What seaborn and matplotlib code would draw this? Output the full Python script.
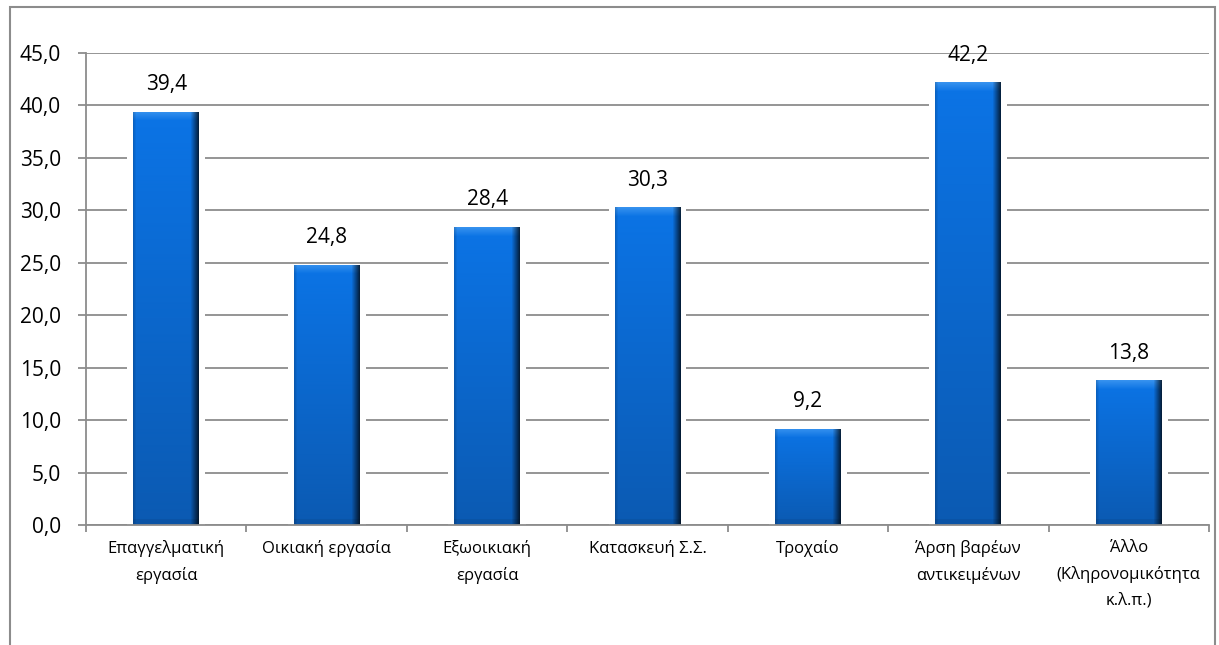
import numpy as np
import pandas as pd
import matplotlib
matplotlib.use("Agg")
import matplotlib.pyplot as plt
from matplotlib.patches import Rectangle
from matplotlib.ticker import FuncFormatter, FixedLocator
import seaborn as sns

categories = ["Επαγγελματική\nεργασία", "Οικιακή εργασία", "Εξωοικιακή\nεργασία",
              "Κατασκευή Σ.Σ.", "Τροχαίο", "Άρση βαρέων\nαντικειμένων",
              "Άλλο\n(Κληρονομικότητα\nκ.λ.π.)"]
values = [39.4, 24.8, 28.4, 30.3, 9.2, 42.2, 13.8]
y_ticks = [0, 5, 10, 15, 20, 25, 30, 35, 40, 45]

sns.set_theme(style="white")
plt.rcParams['font.family'] = ['Open Sans', 'DejaVu Sans']

GRID = "#8c8c8c"

fig = plt.figure(figsize=(12.19, 6.45), dpi=100)
ax = fig.add_axes([86 / 1219, 1 - 525 / 645, (1209 - 86) / 1219, (525 - 53) / 645])

df = pd.DataFrame({"cat": categories, "val": values})
sns.barplot(data=df, x="cat", y="val", order=categories, color="#0a6cd8",
            width=0.41, linewidth=0, saturation=1, ax=ax, zorder=2)

ax.set_ylim(0, 45)
ax.set_xlim(-0.5, len(categories) - 0.5)
ax.set_xlabel("")
ax.set_ylabel("")
ax.set_yticks(y_ticks)
ax.yaxis.set_major_formatter(FuncFormatter(lambda v, p: f"{v:.1f}".replace(".", ",")))
ax.set_axisbelow(True)
ax.yaxis.grid(True, color=GRID, linewidth=1.3)
ax.xaxis.grid(False)
for s in ["top", "right"]:
    ax.spines[s].set_visible(False)
for s in ["left", "bottom"]:
    ax.spines[s].set_color(GRID)
    ax.spines[s].set_linewidth(1.3)
    ax.spines[s].set_zorder(5)

ax.tick_params(axis="y", which="major", direction="out", length=6, width=1.3,
               color=GRID, pad=12, labelsize=15, labelcolor="black", left=True)
ax.tick_params(axis="x", which="major", length=0, pad=11, labelsize=12, labelcolor="black")
ax.xaxis.set_minor_locator(FixedLocator(np.arange(-0.5, len(categories), 1.0)))
ax.tick_params(axis="x", which="minor", direction="out", length=5, width=1.3,
               color=GRID, bottom=True)
for lab in ax.get_xticklabels():
    lab.set_multialignment("center")
    lab.set_linespacing(1.75)

# bar shading (gradient clipped to each bar) and soft side halo
def hex2rgb(h):
    h = h.lstrip("#")
    return np.array([int(h[i:i + 2], 16) for i in (0, 2, 4)]) / 255.0

top_c = hex2rgb("#0b74e6")
bot_c = hex2rgb("#0b5ab2")
light = hex2rgb("#5aaaf6")
halo_dx = 6 / 160.0
for bar in list(ax.patches):
    x0, y0 = bar.get_x(), bar.get_y()
    w, h = bar.get_width(), bar.get_height()
    ax.add_patch(Rectangle((x0 - halo_dx, y0), w + 2 * halo_dx, h, facecolor="white",
                           edgecolor="none", zorder=1.9))
    d = ax.transData.transform([[x0, y0], [x0 + w, y0 + h]])
    W = max(int(round(abs(d[1, 0] - d[0, 0]))), 2)
    H = max(int(round(abs(d[1, 1] - d[0, 1]))), 2)
    t = np.linspace(0, 1, H)[:, None, None]
    img = top_c * (1 - t) + bot_c * t
    img = np.repeat(img, W, axis=1)
    nb = min(9, H // 2)
    for r in range(nb):
        f = (1 - r / nb) * 0.55
        img[r] = img[r] * (1 - f) + light * f
    for r in range(min(6, H // 3)):
        img[H - 1 - r] *= 0.93
    for c in range(3):
        img[:, c] *= 0.85 + 0.05 * c
    ne = 8
    for c in range(ne):
        f = 1 - (c + 1) / ne * 0.72
        img[:, W - ne + c] *= f
    img = np.clip(img, 0, 1)
    im = ax.imshow(img, extent=[x0, x0 + w, y0, y0 + h], origin="upper",
                   aspect="auto", zorder=2.1, interpolation="bilinear")
    im.set_clip_path(bar)

ax.set_ylim(0, 45)
ax.set_xlim(-0.5, len(categories) - 0.5)

ax.bar_label(ax.containers[0], labels=[f"{v:.1f}".replace(".", ",") for v in values],
             padding=12, fontsize=15, color="black", zorder=6)

fig.add_artist(Rectangle((10 / 1219, -0.05), (1215 - 10) / 1219, 1 - 7 / 645 + 0.05,
                         transform=fig.transFigure, fill=False, edgecolor="#8c8c8c",
                         linewidth=1.5))

fig.savefig("out.png", dpi=100, facecolor="white")
